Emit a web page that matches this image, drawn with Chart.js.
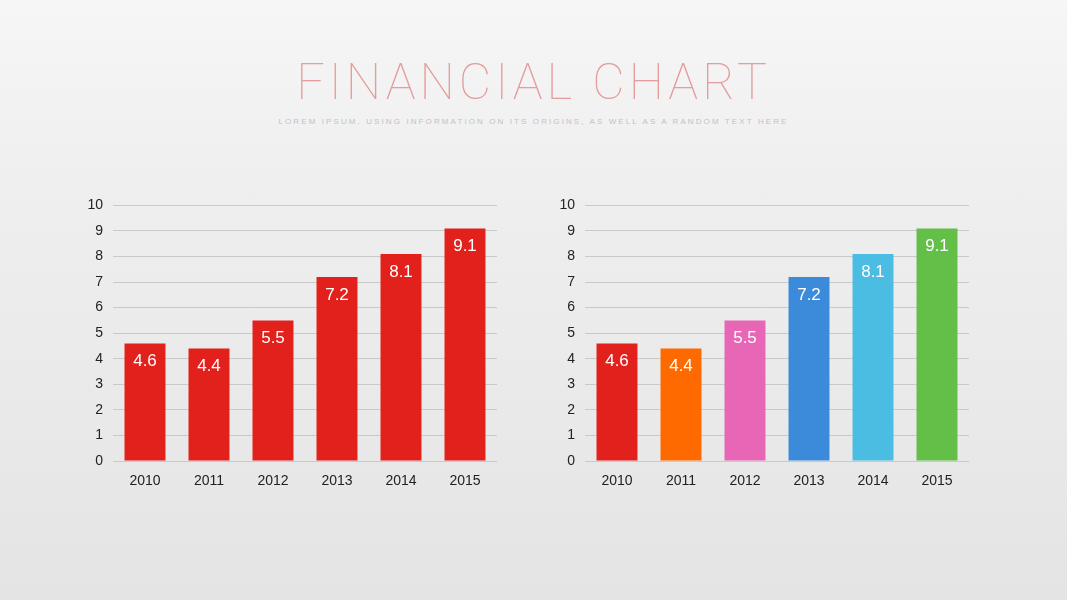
<!DOCTYPE html>
<html>
<head>
<meta charset="utf-8">
<script src="https://cdn.jsdelivr.net/npm/chart.js@4.4.0/dist/chart.umd.min.js"></script>
<style>
    html, body { margin: 0; padding: 0; }
    body {
        width: 1067px; height: 600px; overflow: hidden; position: relative;
        background: linear-gradient(180deg, #f6f6f6 0%, #eeeeee 35%, #e9e9e9 70%, #e4e4e4 100%);
        font-family: Arial, "Liberation Sans", sans-serif;
    }
    .title {
        position: absolute; left: 0; width: 1067px; top: 52px; text-align: center;
        font-family: Roboto, "Noto Sans", sans-serif; font-weight: 100;
        font-size: 50px; letter-spacing: 4px; color: #e49c9c; line-height: 60px;
    }
    .subtitle {
        position: absolute; left: 0; width: 1067px; top: 117px; text-align: center;
        font-family: "Liberation Sans", Arial, sans-serif; font-size: 8px;
        letter-spacing: 2.1px; color: #c2c2c2;
    }
    .chart-box { position: absolute; top: 187px; width: 440px; height: 308px; }
</style>
</head>
<body>
<div class="title">FINANCIAL CHART</div>
<div class="subtitle">LOREM IPSUM, USING INFORMATION ON ITS ORIGINS, AS WELL AS A RANDOM TEXT HERE</div>
<div class="chart-box" style="left:70px"><canvas id="chartLeft" width="440" height="308"></canvas></div>
<div class="chart-box" style="left:542px"><canvas id="chartRight" width="440" height="308"></canvas></div>
<script>
const years = ['2010', '2011', '2012', '2013', '2014', '2015'];
const valuesLeft = [4.6, 4.4, 5.5, 7.2, 8.1, 9.1];
const valuesRight = [4.6, 4.4, 5.5, 7.2, 8.1, 9.1];
const colorsLeft = ['#e2211c', '#e2211c', '#e2211c', '#e2211c', '#e2211c', '#e2211c'];
const colorsRight = ['#e2211c', '#ff6a00', '#e767b6', '#3c8bdb', '#4bbde2', '#63bf48'];
const yMax = 10;

// draws the value inside the top of each bar
const barValueLabels = {
    id: 'barValueLabels',
    afterDatasetsDraw(chart) {
        const ctx = chart.ctx;
        const meta = chart.getDatasetMeta(0);
        ctx.save();
        ctx.fillStyle = '#ffffff';
        ctx.font = '17px Arial, "Liberation Sans", sans-serif';
        ctx.textAlign = 'center';
        ctx.textBaseline = 'middle';
        meta.data.forEach((bar, i) => {
            const value = chart.data.datasets[0].data[i];
            ctx.fillText(String(value), bar.x, bar.y + 18);
        });
        ctx.restore();
    }
};

function makeChart(id, values, colors) {
    const ctx = document.getElementById(id).getContext('2d');
    return new Chart(ctx, {
        type: 'bar',
        data: {
            labels: years,
            datasets: [{
                data: values,
                backgroundColor: colors,
                borderWidth: 0,
                barPercentage: 0.64,
                categoryPercentage: 1
            }]
        },
        options: {
            responsive: false,
            animation: false,
            layout: { padding: { top: 2, right: 13, left: 0, bottom: 0 } },
            plugins: { legend: { display: false }, tooltip: { enabled: false } },
            scales: {
                x: {
                    grid: { display: false, drawTicks: false },
                    border: { display: false },
                    ticks: { color: '#222222', font: { size: 14, family: 'Arial, "Liberation Sans", sans-serif' }, padding: 12 },
                    afterFit: scale => { scale.height = 34; }
                },
                y: {
                    min: 0,
                    max: yMax,
                    grid: { color: '#c9c9c9', lineWidth: 1, drawTicks: false },
                    border: { display: false },
                    ticks: { stepSize: 1, color: '#222222', font: { size: 14, family: 'Arial, "Liberation Sans", sans-serif' }, padding: 10 },
                    afterFit: scale => { scale.width = 43; }
                }
            }
        },
        plugins: [barValueLabels]
    });
}

makeChart('chartLeft', valuesLeft, colorsLeft);
makeChart('chartRight', valuesRight, colorsRight);
</script>
</body>
</html>
